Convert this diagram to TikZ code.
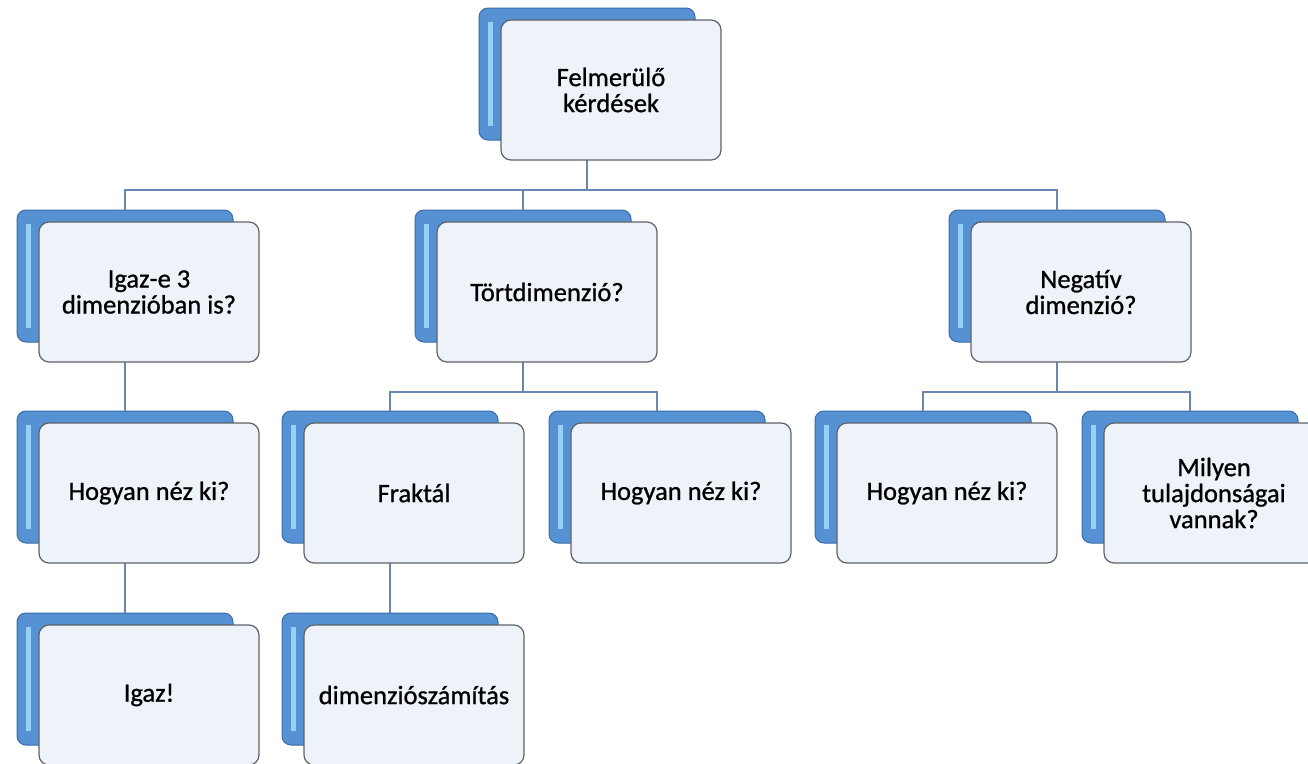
\documentclass[tikz,border=0pt]{standalone}
\usepackage{fontspec}
\setmainfont{Carlito}[FakeBold=0.9]
\definecolor{backblue}{RGB}{86,145,212}
\definecolor{backedge}{RGB}{58,108,170}
\definecolor{backshine}{RGB}{150,208,246}
\definecolor{frontfill}{RGB}{238,243,250}
\definecolor{frontedge}{RGB}{95,98,104}
\definecolor{linkblue}{RGB}{104,136,176}

\begin{document}
\begin{tikzpicture}[x=1pt,y=-1pt,
	back/.style={draw=backedge, line width=1pt, fill=backblue, rounded corners=9pt,
		minimum width=216pt, minimum height=132pt, inner sep=0pt,
		path picture={\fill[backshine, sharp corners] ([xshift=9pt,yshift=-14pt]path picture bounding box.north west)
			rectangle ([xshift=14pt,yshift=14pt]path picture bounding box.south west);}},
	front/.style={draw=frontedge, line width=1.2pt, fill=frontfill, rounded corners=10pt,
		minimum width=220pt, minimum height=140pt, inner sep=0pt, align=center,
		font=\fontsize{26.5}{26}\selectfont},
	link/.style={draw=linkblue, line width=1.5pt}]

		\useasboundingbox (0,0) rectangle (1308,763);

		% Blue plates behind the boxes
		\node[back] (top-b) at (587,74) {};
		\node[back] (igaz3d-b) at (125,276) {};
		\node[back] (tort-b) at (523,276) {};
		\node[back] (negativ-b) at (1057,276) {};
		\node[back] (hogyan1-b) at (125,477) {};
		\node[back] (fraktal-b) at (390,477) {};
		\node[back] (hogyan2-b) at (657,477) {};
		\node[back] (hogyan3-b) at (923,477) {};
		\node[back] (milyen-b) at (1190,477) {};
		\node[back] (igaz-b) at (125,679) {};
		\node[back] (dimszam-b) at (390,679) {};

		% Branch points
		\coordinate (j0) at (587,190);
		\coordinate (jtort) at (523,392);
		\coordinate (jneg) at (1057,392);

		% Draw the connectors
		\draw[link] (top-b.south) -- (j0);
		\draw[link] (j0) -| (igaz3d-b.north);
		\draw[link] (j0) -| (tort-b.north);
		\draw[link] (j0) -| (negativ-b.north);
		\draw[link] (igaz3d-b.south) -- (hogyan1-b.north);
		\draw[link] (hogyan1-b.south) -- (igaz-b.north);
		\draw[link] (tort-b.south) -- (jtort);
		\draw[link] (jtort) -| (fraktal-b.north);
		\draw[link] (jtort) -| (hogyan2-b.north);
		\draw[link] (fraktal-b.south) -- (dimszam-b.north);
		\draw[link] (negativ-b.south) -- (jneg);
		\draw[link] (jneg) -| (hogyan3-b.north);
		\draw[link] (jneg) -| (milyen-b.north);

		% White boxes with the questions
		\node[front] (top) at ([shift={(24,16)}]top-b.center) {Felmerülő\\kérdések};
		\node[front] (igaz3d) at ([shift={(24,16)}]igaz3d-b.center) {Igaz-e 3\\dimenzióban is?};
		\node[front] (tort) at ([shift={(24,16)}]tort-b.center) {Törtdimenzió?};
		\node[front] (negativ) at ([shift={(24,16)}]negativ-b.center) {Negatív\\dimenzió?};
		\node[front] (hogyan1) at ([shift={(24,16)}]hogyan1-b.center) {Hogyan néz ki?};
		\node[front] (fraktal) at ([shift={(24,16)}]fraktal-b.center) {Fraktál};
		\node[front] (hogyan2) at ([shift={(24,16)}]hogyan2-b.center) {Hogyan néz ki?};
		\node[front] (hogyan3) at ([shift={(24,16)}]hogyan3-b.center) {Hogyan néz ki?};
		\node[front] (milyen) at ([shift={(24,16)}]milyen-b.center) {Milyen\\tulajdonságai\\vannak?};
		\node[front] (igaz) at ([shift={(24,16)}]igaz-b.center) {Igaz!};
		\node[front] (dimszam) at ([shift={(24,16)}]dimszam-b.center) {dimenziószámítás};
	\end{tikzpicture}
\end{document}
